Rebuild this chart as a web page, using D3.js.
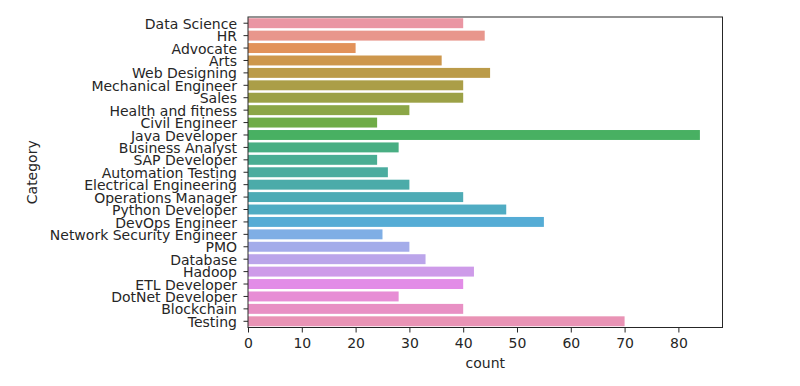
<!DOCTYPE html>
<html>
<head>
<meta charset="utf-8">
<script src="https://cdn.jsdelivr.net/npm/d3@7"></script>
<style>
  body { margin: 0; background: #fff; }
  svg text { font-family: "DejaVu Sans", sans-serif; fill: #262626; }
</style>
</head>
<body>
<svg id="chart"></svg>
<script>
// counts per category, top to bottom
const categories = ['Data Science', 'HR', 'Advocate', 'Arts', 'Web Designing', 'Mechanical Engineer',
  'Sales', 'Health and fitness', 'Civil Engineer', 'Java Developer', 'Business Analyst', 'SAP Developer',
  'Automation Testing', 'Electrical Engineering', 'Operations Manager', 'Python Developer', 'DevOps Engineer',
  'Network Security Engineer', 'PMO', 'Database', 'Hadoop', 'ETL Developer', 'DotNet Developer',
  'Blockchain', 'Testing'];
const counts = [40, 44, 20, 36, 45, 40, 40, 30, 24, 84, 28, 24, 26, 30, 40, 48, 55, 25, 30, 33, 42, 40, 28, 40, 70];
const xTicks = [0, 10, 20, 30, 40, 50, 60, 70, 80];

// --- husl palette like seaborn (h=.01, s=.9, l=.7), then desaturated by .75
const M = [[3.2406, -1.5372, -0.4986], [-0.9689, 1.8758, 0.0415], [0.0557, -0.2040, 1.0570]];
const refU = 0.19784, refV = 0.46834, labE = 0.008856, labK = 903.3;

function maxChroma(L, H) {
  const hr = H * Math.PI / 180, sinH = Math.sin(hr), cosH = Math.cos(hr);
  const sub1 = Math.pow(L + 16, 3) / 1560896;
  const sub2 = sub1 > labE ? sub1 : L / labK;
  let res = Infinity;
  M.forEach(([m1, m2, m3]) => {
    const tp = (0.99915 * m1 + 1.05122 * m2 + 1.14460 * m3) * sub2;
    const rb = 0.86330 * m3 - 0.17266 * m2;
    const lb = 0.12949 * m3 - 0.38848 * m1;
    const bt = (rb * sinH + lb * cosH) * sub2;
    [0, 1].forEach(t => {
      const C = L * (tp - 1.05122 * t) / (bt + 0.17266 * sinH * t);
      if (C > 0 && C < res) res = C;
    });
  });
  return res;
}

function huslToRgb(h, s, l) {
  const C = maxChroma(l, h) / 100 * s;
  const hr = h * Math.PI / 180;
  const U = C * Math.cos(hr), V = C * Math.sin(hr);
  const t = (l + 16) / 116;
  const Y = Math.pow(t, 3) > labE ? Math.pow(t, 3) : (116 * t - 16) / labK;
  const vu = U / (13 * l) + refU, vv = V / (13 * l) + refV;
  const X = 0 - (9 * Y * vu) / ((vu - 4) * vv - vu * vv);
  const Z = (9 * Y - 15 * vv * Y - vv * X) / (3 * vv);
  return M.map(r => {
    const c = r[0] * X + r[1] * Y + r[2] * Z;
    const v = c <= 0.0031308 ? 12.92 * c : 1.055 * Math.pow(c, 1 / 2.4) - 0.055;
    return Math.max(0, Math.min(1, v));
  });
}

function desaturate(rgb, prop) {
  const c = d3.hsl(d3.rgb(rgb[0] * 255, rgb[1] * 255, rgb[2] * 255));
  c.s *= prop;
  return c.formatHex();
}

const n = categories.length;
const palette = d3.range(n).map(i => {
  const h = ((i / n + 0.01) % 1) * 359;
  return desaturate(huslToRgb(h, 0.9 * 99, 0.7 * 99), 0.75);
});

// --- layout
const width = 800, height = 386;
const mLeft = 248, mRight = 722.5, mTop = 17, mBottom = 327.5;
const fontSize = '14px';

const svg = d3.select('#chart').attr('width', width).attr('height', height);

const x = d3.scaleLinear().domain([0, d3.max(counts) * 1.05]).range([mLeft, mRight]);
const y = d3.scaleBand().domain(categories).range([mTop, mBottom]).paddingInner(0.2).paddingOuter(0.1);

svg.append('g')
  .selectAll('rect')
  .data(categories)
  .join('rect')
  .attr('x', x(0))
  .attr('y', d => y(d))
  .attr('width', (d, i) => x(counts[i]) - x(0))
  .attr('height', y.bandwidth())
  .attr('fill', (d, i) => palette[i]);

// axes
const xAxis = svg.append('g')
  .attr('transform', `translate(0,${mBottom})`)
  .call(d3.axisBottom(x).tickValues(xTicks).tickSize(5).tickPadding(4));
const yAxis = svg.append('g')
  .attr('transform', `translate(${mLeft},0)`)
  .call(d3.axisLeft(y).tickSize(4.5).tickPadding(6.5));

[xAxis, yAxis].forEach(g => {
  g.select('.domain').remove();
  g.selectAll('line').attr('stroke', '#262626').attr('stroke-width', 1);
  g.selectAll('text').style('font-size', fontSize).attr('fill', '#262626');
});
xAxis.selectAll('text').attr('dy', '0.85em');
yAxis.selectAll('text').attr('dy', '0.4em');

// frame
svg.append('rect')
  .attr('x', mLeft).attr('y', mTop)
  .attr('width', mRight - mLeft).attr('height', mBottom - mTop)
  .attr('fill', 'none').attr('stroke', '#262626').attr('stroke-width', 1);

svg.append('text')
  .attr('x', (mLeft + mRight) / 2).attr('y', 368)
  .attr('text-anchor', 'middle')
  .style('font-size', fontSize)
  .text('count');

svg.append('text')
  .attr('transform', `translate(37,${(mTop + mBottom) / 2}) rotate(-90)`)
  .attr('text-anchor', 'middle')
  .style('font-size', fontSize)
  .text('Category');
</script>
</body>
</html>
